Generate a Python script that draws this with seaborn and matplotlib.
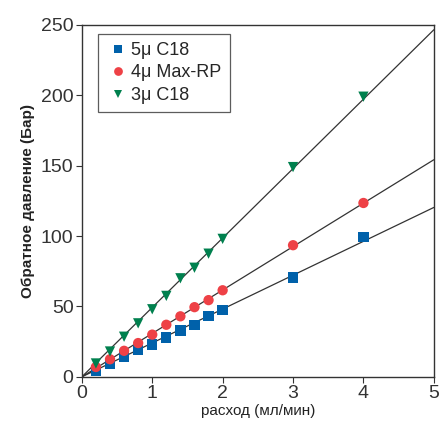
import numpy as np
import pandas as pd
import matplotlib
matplotlib.use("Agg")
import matplotlib.pyplot as plt
import seaborn as sns

# данные
flow = [0.2, 0.4, 0.6, 0.8, 1.0, 1.2, 1.4, 1.6, 1.8, 2.0, 3.0, 4.0]
c18_5 = [4.5, 9, 14.5, 19, 23, 28, 33, 37, 43, 47.5, 70.5, 99.5]
maxrp_4 = [7, 12.5, 18.5, 24, 30, 37, 43, 49.5, 54.5, 61.5, 93.5, 123.5]
c18_3 = [9.5, 18, 28.5, 38, 48, 57.5, 70, 77.5, 87.5, 98, 149, 199]

names = ["5μ C18", "4μ Max-RP", "3μ C18"]
colors = {"5μ C18": "#0061AA", "4μ Max-RP": "#EE4146", "3μ C18": "#00804E"}
markers = {"5μ C18": "s", "4μ Max-RP": "o", "3μ C18": "v"}

data = pd.DataFrame({
    "flow": flow * 3,
    "pressure": c18_5 + maxrp_4 + c18_3,
    "column": [n for n in names for _ in flow],
})

sns.set_style("ticks")
plt.rcParams["font.family"] = ["Liberation Sans", "DejaVu Sans"]

fig = plt.figure(figsize=(4.4, 4.22), dpi=100)
ax = fig.add_axes([0.186, 0.107, 0.80, 0.834])

# линии регрессии через ноль
xs = np.array([0, 5.0])
for n, ys in zip(names, [c18_5, maxrp_4, c18_3]):
    k = np.dot(flow, ys) / np.dot(flow, flow)
    sns.lineplot(x=xs, y=k * xs, ax=ax, color="#333333", lw=0.9, zorder=1)

sns.scatterplot(data=data, x="flow", y="pressure", hue="column", style="column",
                palette=colors, markers=markers, s=55, linewidth=0, ax=ax, zorder=3)

ax.set_xlim(0, 5)
ax.set_ylim(0, 250)
ax.set_xticks([0, 1, 2, 3, 4, 5])
ax.set_yticks([0, 50, 100, 150, 200, 250])
ax.tick_params(labelsize=14, colors="#333333", length=4, width=0.8,
               labelcolor="#333333", pad=2)
for s in ax.spines.values():
    s.set_color("#333333")
    s.set_linewidth(1.0)

ax.set_xlabel("расход (мл/мин)", fontsize=11, color="#222222", labelpad=1)
ax.set_ylabel("Обратное давление (Бар)", fontsize=11, fontweight="bold",
              color="#222222", labelpad=4)

leg = ax.legend(loc="upper left", bbox_to_anchor=(0.02, 1.0), fontsize=13,
                frameon=True, fancybox=False, edgecolor="#333333",
                handletextpad=0.1, borderpad=0.45, labelspacing=0.3,
                handlelength=1.3, markerscale=0.85)
leg.get_frame().set_linewidth(0.9)

plt.savefig("out.png", dpi=100)
